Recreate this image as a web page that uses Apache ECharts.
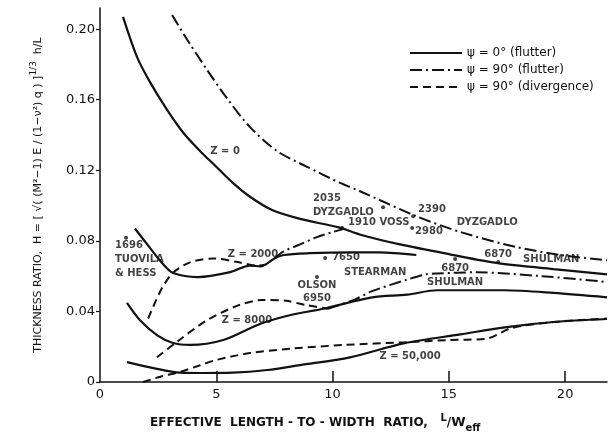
<!DOCTYPE html>
<html>
<head>
<meta charset="utf-8">
<title>Thickness ratio vs effective length-to-width ratio</title>
<script src="https://cdn.jsdelivr.net/npm/echarts@6/dist/echarts.min.js"></script>
<style>
  html, body { margin: 0; padding: 0; background: #fff; }
  #chart { width: 610px; height: 438px; }
</style>
</head>
<body>
<div id="chart"></div>
<script>
// tick labels
const xTicks = [0, 5, 10, 15, 20];
const yTicks = [0, 0.04, 0.08, 0.12, 0.16, 0.20];

// legend entries
const legendNames = ['\u03c8 = 0\u00b0 (flutter)', '\u03c8 = 90\u00b0 (flutter)', '\u03c8 = 90\u00b0 (divergence)'];

// Z = 0
const z0Flutter0 = [[0.99, 0.207], [1.6, 0.184], [2.15, 0.170], [2.9, 0.154], [3.6, 0.141], [4.3, 0.131],
  [5.0, 0.122], [5.7, 0.113], [6.45, 0.105], [7.4, 0.0975], [8.6, 0.0925], [10.3, 0.0875], [11.2, 0.0835],
  [12.9, 0.078], [15.0, 0.0725], [17.1, 0.0674], [19.5, 0.064], [21.8, 0.061]];
const z0Flutter90 = [[3.1, 0.208], [3.75, 0.194], [4.6, 0.177], [5.45, 0.161], [6.45, 0.1445], [7.6, 0.131],
  [8.9, 0.122], [10.3, 0.113], [11.2, 0.108], [13.6, 0.094], [15.5, 0.085], [17.9, 0.0765], [19.8, 0.072],
  [21.8, 0.069]];

// Z = 2000
const z2000Flutter0 = [[1.5, 0.087], [2.15, 0.076], [2.7, 0.067], [3.15, 0.0618], [4.2, 0.0595], [5.6, 0.0623],
  [6.45, 0.066], [6.9, 0.0655], [7.5, 0.070], [7.9, 0.072], [9.0, 0.073], [10.75, 0.0735], [12.0, 0.0735],
  [13.6, 0.072]];
const z2000Diverg = [[2.07, 0.036], [2.4, 0.046], [2.7, 0.054], [3.15, 0.062], [3.9, 0.068], [4.9, 0.070],
  [5.9, 0.068], [6.75, 0.066], [7.1, 0.0665]];
const z2000Flutter90 = [[7.5, 0.070], [7.9, 0.074], [8.6, 0.078], [9.3, 0.082], [10.0, 0.085], [10.5, 0.0868]];

// Z = 8000
const z8000Flutter0 = [[1.16, 0.0448], [1.72, 0.035], [2.45, 0.0266], [3.14, 0.0221], [3.87, 0.021], [5.3, 0.0238],
  [6.9, 0.033], [8.2, 0.038], [9.6, 0.0415], [11.7, 0.048], [13.2, 0.0495], [14.5, 0.052], [17.4, 0.052],
  [19.5, 0.0505], [21.8, 0.048]];
const z8000Diverg = [[2.45, 0.014], [3.3, 0.0227], [4.6, 0.035], [6.0, 0.0437], [7.0, 0.0465], [8.0, 0.046],
  [8.9, 0.0435], [9.8, 0.0415]];
const z8000Flutter90 = [[9.8, 0.0415], [10.3, 0.0437], [11.0, 0.047], [11.7, 0.0515], [13.2, 0.058], [14.0, 0.061],
  [14.5, 0.0615], [16.2, 0.0622], [19.0, 0.060], [21.8, 0.0567]];

// Z = 50,000
const z50000Flutter0 = [[1.16, 0.0113], [2.3, 0.0079], [3.44, 0.0053], [4.3, 0.0051], [5.7, 0.0053], [7.2, 0.0068],
  [8.6, 0.0096], [10.75, 0.014], [13.1, 0.022], [15.5, 0.027], [17.4, 0.031], [19.5, 0.034], [21.8, 0.0357]];
const z50000Diverg = [[1.85, 0], [2.6, 0.003], [3.44, 0.0057], [4.3, 0.0095], [5.0, 0.0125], [6.45, 0.0164],
  [8.3, 0.019], [10.5, 0.021], [13.1, 0.0225], [15.0, 0.0238], [16.6, 0.0245], [17.7, 0.0306], [19.5, 0.034],
  [21.8, 0.036]];

// test points
const testX = [1.12, 12.17, 13.46, 13.42, 10.41, 9.68, 9.33, 15.27, 17.12];
const testY = [0.0817, 0.0991, 0.094, 0.0873, 0.0873, 0.0703, 0.0595, 0.0697, 0.068];
const testNames = ['1696\nTUOVILA\n& HESS', '2035\nDYZGADLO', '2390', '2980', '1910 VOSS', '7650',
  'OLSON\n6950', '6870\nSHULMAN', '6870'];

// curve annotations
const noteX = [5.38, 6.58, 6.32, 13.33, 16.65, 19.4, 11.83];
const noteY = [0.1309, 0.0725, 0.0351, 0.0147, 0.0907, 0.0697, 0.0623];
const noteText = ['Z = 0', 'Z = 2000', 'Z = 8000', 'Z = 50,000', 'DYZGADLO', 'SHULMAN', 'STEARMAN'];

const FONT = 'DejaVu Sans';
const INK = '#111';
const SOLID = 'solid';
const DASHDOT = [12, 4, 2, 4];
const DASHED = [8, 5];

const chart = echarts.init(document.getElementById('chart'));

function curve(name, data, dash) {
  return {
    type: 'line',
    name: name,
    data: data,
    smooth: 0.3,
    symbol: 'none',
    silent: true,
    color: INK,
    lineStyle: { color: INK, width: dash === SOLID ? 2.2 : 2, type: dash }
  }
}

// label placement for the test points (px offsets)
const testLabelPos = [
  { position: [-9, 3], lineHeight: 14 },
  { position: [-68, -14], lineHeight: 14 },
  { position: [7, -10] },
  { position: [5, 0] },
  { position: [8, -9] },
  { position: [9, -4] },
  { position: 'bottom', distance: 0, align: 'center', lineHeight: 13 },
  { position: 'bottom', distance: 0, align: 'center', lineHeight: 14 },
  { position: 'top', distance: 1, align: 'center' }
];

const testPoints = testX.map((x, i) => ({
  value: [x, testY[i]],
  label: Object.assign({ show: true, formatter: testNames[i] }, testLabelPos[i])
}));

const notes = noteX.map((x, i) => ({
  value: [x, noteY[i]],
  label: { show: true, formatter: noteText[i], position: 'inside', align: 'center', verticalAlign: 'middle' }
}));

const option = {
  animation: false,
  backgroundColor: '#fff',
  textStyle: { fontFamily: FONT, color: INK },
  grid: { left: 100, right: 3, top: 8, bottom: 56 },
  title: {
    text: '{m|EFFECTIVE  LENGTH - TO - WIDTH  RATIO,}  {sup|L}{m|/}{w|W}{sub|eff}',
    left: 145,
    top: 408,
    textStyle: {
      rich: {
        m: { fontFamily: FONT, fontSize: 12, color: INK, lineHeight: 20 },
        w: { fontFamily: FONT, fontSize: 13, color: INK, lineHeight: 20 },
        sup: { fontFamily: FONT, fontSize: 10, color: INK, verticalAlign: 'top', lineHeight: 20 },
        sub: { fontFamily: FONT, fontSize: 10, color: INK, verticalAlign: 'bottom', lineHeight: 20 }
      }
    }
  },
  legend: {
    orient: 'vertical',
    left: 404,
    top: 42,
    itemWidth: 52,
    itemHeight: 10,
    itemGap: 5,
    selectedMode: false,
    data: legendNames,
    itemStyle: { opacity: 0 },
    textStyle: { fontFamily: FONT, fontSize: 12, color: INK }
  },
  xAxis: {
    type: 'value',
    min: 0,
    max: 21.8,
    splitLine: { show: false },
    axisLine: { onZero: false, lineStyle: { color: INK, width: 1.5 } },
    axisTick: { inside: true, length: 11, customValues: xTicks.slice(1), lineStyle: { color: INK, width: 1.5 } },
    axisLabel: { customValues: xTicks, margin: 6, fontFamily: FONT, fontSize: 13, color: INK }
  },
  yAxis: {
    type: 'value',
    min: 0,
    max: 0.212,
    splitLine: { show: false },
    axisLine: { show: true, onZero: false, lineStyle: { color: INK, width: 1.5 } },
    axisTick: { show: true, length: 4, customValues: yTicks, lineStyle: { color: INK, width: 1.2 } },
    axisLabel: {
      customValues: yTicks, margin: 5, fontFamily: FONT, fontSize: 13, color: INK,
      formatter: v => (v === 0 ? '0' : v.toFixed(2))
    },
    name: '{t|THICKNESS RATIO,  H = [ \u221a( (M\u00b2\u22121) E / (1\u2212\u03bd\u00b2) q ) ]}{s|1/3}{t|  h/L}',
    nameLocation: 'middle',
    nameGap: 53,
    nameTextStyle: {
      rich: {
        t: { fontFamily: FONT, fontSize: 11, color: INK, lineHeight: 18 },
        s: { fontFamily: FONT, fontSize: 9, color: INK, verticalAlign: 'top', lineHeight: 18 }
      }
    }
  },
  series: [
    curve(legendNames[0], z0Flutter0, SOLID),
    curve(legendNames[1], z0Flutter90, DASHDOT),
    curve(legendNames[2], z2000Diverg, DASHED),
    curve(legendNames[0], z2000Flutter0, SOLID),
    curve(legendNames[1], z2000Flutter90, DASHDOT),
    curve(legendNames[0], z8000Flutter0, SOLID),
    curve(legendNames[2], z8000Diverg, DASHED),
    curve(legendNames[1], z8000Flutter90, DASHDOT),
    curve(legendNames[0], z50000Flutter0, SOLID),
    curve(legendNames[2], z50000Diverg, DASHED),
    {
      type: 'scatter',
      name: 'tests',
      data: testPoints,
      symbol: 'circle',
      symbolSize: 4,
      itemStyle: { color: INK },
      label: { fontFamily: FONT, fontSize: 10, fontWeight: 'bold', color: INK }
    },
    {
      type: 'scatter',
      name: 'notes',
      data: notes,
      symbolSize: 0,
      itemStyle: { color: 'transparent' },
      label: { fontFamily: FONT, fontSize: 10, fontWeight: 'bold', color: INK }
    }
  ]
};

chart.setOption(option);
</script>
</body>
</html>
